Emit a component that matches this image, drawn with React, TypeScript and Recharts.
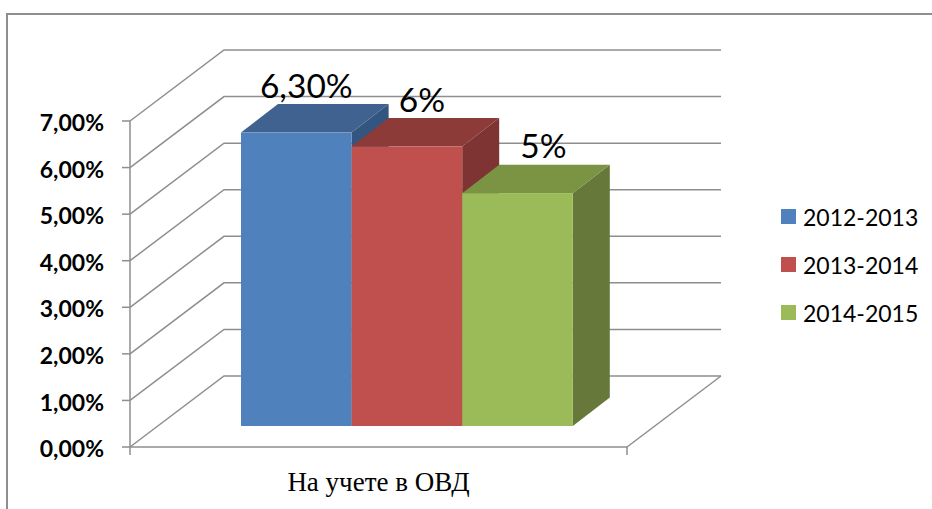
import { BarChart, Bar, XAxis, YAxis, CartesianGrid, Legend } from 'recharts';

const categories = ['На учете в ОВД'];
const seriesNames = ['2012-2013', '2013-2014', '2014-2015'];
const seriesValues = [6.3, 6, 5];
const dataLabels = ['6,30%', '6%', '5%'];
const yTicks = [0, 1, 2, 3, 4, 5, 6, 7];

const chartData = categories.map((category) => {
  const row: Record<string, string | number> = { category };
  seriesNames.forEach((name, i) => {
    row[name] = seriesValues[i];
  });
  return row;
});

const faces = [
  { front: '#4F81BD', top: '#3F6290', side: '#34557F' },
  { front: '#C0504D', top: '#8C3B39', side: '#7D3432' },
  { front: '#9BBB59', top: '#7A9444', side: '#66783A' },
];

const GRID = '#8E8E8E';
const WALL_DX = 94;
const WALL_DY = 71;
const BAR_DX = 37;
const BAR_DY = 28.5;
// bars stand in the middle of the floor, not on the front edge
const FLOOR_DX = 28;
const FLOOR_DY = 21;
const LABEL_DX = [10, 15, 26];

const Bar3D = (props: any, seriesIndex: number) => {
  const x = props.x + FLOOR_DX;
  const y = props.y - FLOOR_DY;
  const { width: w, height: h } = props;
  const c = faces[seriesIndex];
  return (
    <g>
      <polygon
        points={`${x + w},${y} ${x + w + BAR_DX},${y - BAR_DY} ${x + w + BAR_DX},${y + h - BAR_DY} ${x + w},${y + h}`}
        fill={c.side}
      />
      <polygon
        points={`${x},${y} ${x + BAR_DX},${y - BAR_DY} ${x + w + BAR_DX},${y - BAR_DY} ${x + w},${y}`}
        fill={c.top}
      />
      <rect x={x} y={y} width={w} height={h} fill={c.front} />
    </g>
  );
};

const BarLabel = (props: any, seriesIndex: number) => (
  <text
    x={props.x + props.width / 2 + FLOOR_DX + LABEL_DX[seriesIndex]}
    y={props.y - FLOOR_DY - 35}
    textAnchor="middle"
    fontFamily="Lato"
    fontSize={33.5}
    fill="#000"
  >
    {dataLabels[seriesIndex]}
  </text>
);

const WallLine = (props: any) => {
  const { x1, x2, y1 } = props;
  const backY = y1 - WALL_DY;
  const isFloor = Math.abs(y1 - 447) < 1;
  return (
    <g key={props.key} fill="none" stroke={GRID} strokeWidth={1.5}>
      <polyline points={`${x1},${y1} ${x1 + WALL_DX},${backY} ${x2 + WALL_DX},${backY}`} />
      {isFloor && (
        <>
          <line x1={x2} y1={y1} x2={x2 + WALL_DX} y2={backY} />
          <line x1={x1} y1={y1} x2={x1} y2={y1 + 8} />
          <line x1={x2} y1={y1} x2={x2} y2={y1 + 8} />
        </>
      )}
    </g>
  );
};

const LegendRows = (props: any) => (
  <div>
    {(props.payload ?? []).map((entry: any) => (
      <div key={entry.value} style={{ display: 'flex', alignItems: 'center', height: 48 }}>
        <span style={{ width: 15, height: 15, marginRight: 7, background: entry.color }} />
        <span style={{ color: '#000', fontFamily: 'Lato', fontSize: 23 }}>{entry.value}</span>
      </div>
    ))}
  </div>
);

export default function App() {
  return (
    <div style={{ position: 'absolute', left: 0, top: 0, width: 932, height: 509, background: '#fff', overflow: 'hidden' }}>
      <div
        style={{
          position: 'absolute',
          left: 6,
          top: 13,
          width: 926,
          height: 496,
          borderLeft: `2px solid ${GRID}`,
          borderTop: `2px solid ${GRID}`,
        }}
      />
      <BarChart
        width={932}
        height={509}
        data={chartData}
        margin={{ top: 121, right: 155, bottom: 22, left: 10 }}
        barSize={110.6}
        barGap={0}
        style={{ position: 'absolute', left: 0, top: 0 }}
      >
        <CartesianGrid vertical={false} horizontal={WallLine} />
        <XAxis
          dataKey="category"
          height={40}
          axisLine={{ stroke: GRID, strokeWidth: 1.5 }}
          tickLine={false}
          tickMargin={19}
          tick={{ fontFamily: 'Liberation Serif', fontSize: 27, fill: '#000' }}
        />
        <YAxis
          width={120}
          domain={[0, 7]}
          ticks={yTicks}
          interval={0}
          tickSize={8}
          tickMargin={18}
          axisLine={{ stroke: GRID, strokeWidth: 1.5 }}
          tickLine={{ stroke: GRID, strokeWidth: 1.5 }}
          tickFormatter={(v: number) => v.toFixed(2).replace('.', ',') + '%'}
          tick={{ fontFamily: 'Lato', fontWeight: 700, fontSize: 23, fill: '#000', dy: 2 }}
        />
        <Legend
          layout="vertical"
          align="right"
          verticalAlign="top"
          content={LegendRows}
          wrapperStyle={{ left: 781, top: 192.5, width: 150 }}
        />
        {seriesNames.map((name, i) => (
          <Bar
            key={name}
            dataKey={name}
            fill={faces[i].front}
            isAnimationActive={false}
            shape={(p: any) => Bar3D(p, i)}
            label={(p: any) => BarLabel(p, i)}
          />
        ))}
      </BarChart>
    </div>
  );
}
